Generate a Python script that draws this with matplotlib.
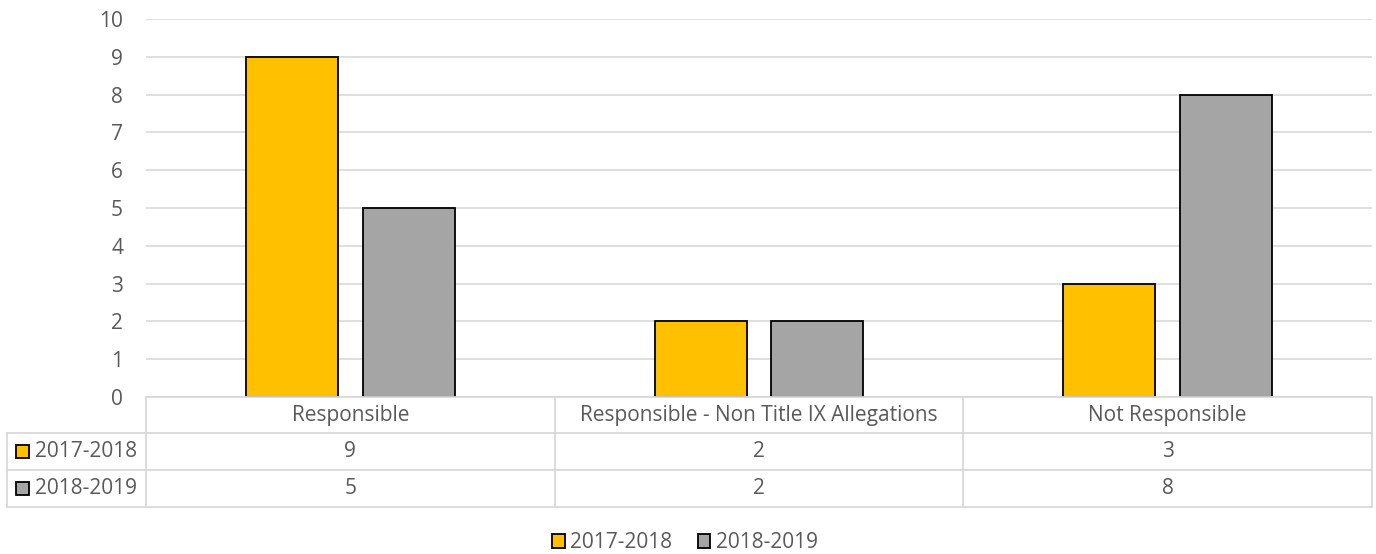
import matplotlib
matplotlib.use("Agg")
import matplotlib.pyplot as plt
from matplotlib.patches import Rectangle
from matplotlib.lines import Line2D

categories = ["Responsible", "Responsible - Non Title IX Allegations", "Not Responsible"]
series_names = ["2017-2018", "2018-2019"]
values_2017 = [9, 2, 3]
values_2018 = [5, 2, 8]
colors = ["#FFC000", "#A5A5A5"]
yticks = list(range(0, 11))

plt.rcParams['font.family'] = ['Open Sans', 'DejaVu Sans']
TXT = "#595959"
GRID = "#D9D9D9"
FS = 15

W, H = 1376, 554
fig = plt.figure(figsize=(W/100, H/100), dpi=100)

def fx(px):
    return px / W
def fy(py):
    return 1 - py / H

left, right, top, bottom = 146, 1372, 19, 397
ax = fig.add_axes([fx(left), fy(bottom), fx(right) - fx(left), fy(top) - fy(bottom)])
n = len(categories)
ax.set_xlim(-0.5, n - 0.5)
ax.set_ylim(0, 10)

bw = 0.225
off = 0.143
xs = list(range(n))
for vals, c, sgn in [(values_2017, colors[0], -1), (values_2018, colors[1], 1)]:
    ax.bar([x + sgn * off for x in xs], vals, width=bw, color=c,
           edgecolor="black", linewidth=1.3, zorder=3)

ax.set_yticks(yticks)
ax.yaxis.grid(True, color=GRID, linewidth=1.2, zorder=0)
ax.set_axisbelow(True)
ax.tick_params(axis='y', length=0, labelsize=FS, labelcolor=TXT, pad=16.5)
ax.set_xticks([])
for s in ax.spines.values():
    s.set_visible(False)

# Data table drawn below the axes
row_lines = [397, 433, 470, 507]
col_edges = [left + (right - left) * i / n for i in range(n + 1)]
tl = 7  # left of series label column

def hline(y, x0, x1):
    fig.add_artist(Line2D([fx(x0), fx(x1)], [fy(y), fy(y)], color=GRID, linewidth=1.3))
def vline(x, y0, y1):
    fig.add_artist(Line2D([fx(x), fx(x)], [fy(y0), fy(y1)], color=GRID, linewidth=1.3))

hline(row_lines[0], left, right)
for y in row_lines[1:]:
    hline(y, tl, right)
for x in col_edges:
    vline(x, row_lines[0], row_lines[-1])
vline(tl, row_lines[1], row_lines[-1])

for i, cat in enumerate(categories):
    cx = (col_edges[i] + col_edges[i + 1]) / 2
    fig.text(fx(cx), fy((row_lines[0] + row_lines[1]) / 2), cat, ha='center', va='center',
             fontsize=FS, color=TXT)
for r, (name, vals, c) in enumerate(zip(series_names, [values_2017, values_2018], colors)):
    yc = (row_lines[r + 1] + row_lines[r + 2]) / 2
    fig.add_artist(Rectangle((fx(16), fy(yc + 6.5)), fx(13), 13 / H, facecolor=c,
                             edgecolor="black", linewidth=1.3))
    fig.text(fx(35), fy(yc), name, ha='left', va='center', fontsize=FS, color=TXT)
    for i, v in enumerate(vals):
        cx = (col_edges[i] + col_edges[i + 1]) / 2
        fig.text(fx(cx), fy(yc), str(v), ha='center', va='center', fontsize=FS, color=TXT)

# Legend
handles = [Rectangle((0, 0), 1, 1, facecolor=c, edgecolor="black", linewidth=1.3) for c in colors]
fig.legend(handles, series_names, loc='center', bbox_to_anchor=(fx(685), fy(543)), ncol=2,
           frameon=False, fontsize=FS, labelcolor=TXT, handlelength=0.62, handleheight=0.62,
           handletextpad=0.25, columnspacing=1.2, borderpad=0)

fig.savefig("out.png", dpi=100)
